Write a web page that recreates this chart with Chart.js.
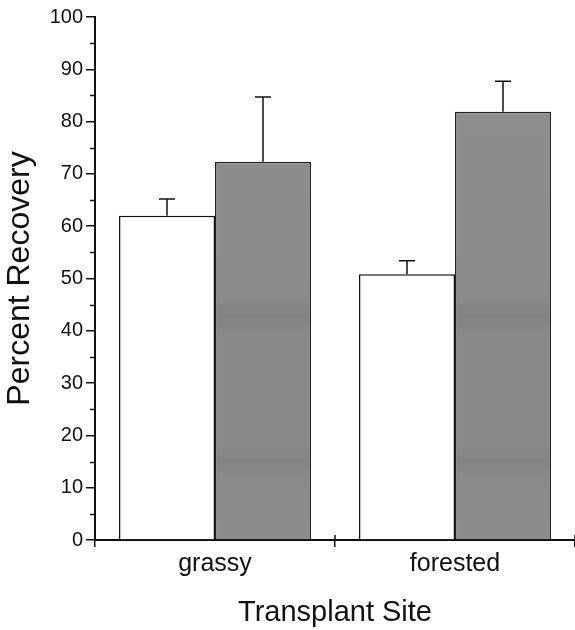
<!DOCTYPE html>
<html>
<head>
<meta charset="utf-8">
<script src="https://cdn.jsdelivr.net/npm/chart.js@4"></script>
<style>
  html, body { margin: 0; padding: 0; background: #fff; }
  #wrap { width: 575px; height: 630px; position: relative; }
</style>
</head>
<body>
<div id="wrap"><canvas id="chart"></canvas></div>
<script>
// data
const sites = ['grassy', 'forested'];
const seriesA = [62.0, 50.8];        // open bars
const seriesB = [72.3, 81.9];        // shaded bars
const errA = [3.2, 2.6];
const errB = [12.4, 5.8];
const yTicks = [0, 10, 20, 30, 40, 50, 60, 70, 80, 90, 100];
const yMinor = [5, 15, 25, 35, 45, 55, 65, 75, 85, 95];

const font = "'Liberation Sans', Arial, sans-serif";

// shaded fill with the faint darker bands of the print
function grayFill(context) {
    const chart = context.chart;
    if (!chart.chartArea) return '#8b8b8b';
    const y = chart.scales.y;
    const g = chart.ctx.createLinearGradient(0, y.getPixelForValue(100), 0, y.getPixelForValue(0));
    const stops = [[100, '#8e8e8e'], [47, '#8b8b8b'], [43, '#828282'], [39, '#8a8a8a'],
                   [18, '#8a8a8a'], [15, '#838383'], [12, '#8a8a8a'], [0, '#8c8c8c']];
    stops.forEach(s => g.addColorStop(1 - s[0] / 100, s[1]));
    return g;
}

const errorBars = {
    id: 'errorBars',
    afterDatasetsDraw(chart) {
        const ctx = chart.ctx;
        const y = chart.scales.y;
        const errs = [errA, errB];
        ctx.save();
        ctx.strokeStyle = '#111';
        ctx.lineWidth = 1.5;
        chart.data.datasets.forEach((ds, di) => {
            chart.getDatasetMeta(di).data.forEach((bar, i) => {
                const top = y.getPixelForValue(ds.data[i] + errs[di][i]);
                ctx.beginPath();
                ctx.moveTo(bar.x, bar.y);
                ctx.lineTo(bar.x, top);
                ctx.moveTo(bar.x - 8, top);
                ctx.lineTo(bar.x + 8, top);
                ctx.stroke();
            });
        });
        ctx.restore();
    }
};

const extraTicks = {
    id: 'extraTicks',
    afterDraw(chart) {
        const ctx = chart.ctx;
        const x = chart.scales.x;
        const y = chart.scales.y;
        const area = chart.chartArea;
        ctx.save();
        ctx.strokeStyle = '#111';
        ctx.lineWidth = 1.5;
        ctx.beginPath();
        // minor ticks on y
        yMinor.forEach(v => {
            const py = Math.round(y.getPixelForValue(v)) + 0.5;
            ctx.moveTo(area.left - 5, py);
            ctx.lineTo(area.left, py);
        });
        // inward part of category boundary ticks
        const half = (x.getPixelForValue(1) - x.getPixelForValue(0)) / 2;
        for (let i = 0; i < sites.length; i++) {
            const px = x.getPixelForValue(i) + half;
            ctx.moveTo(px, area.bottom);
            ctx.lineTo(px, area.bottom - 5);
        }
        ctx.stroke();
        ctx.restore();
    }
};

new Chart(document.getElementById('chart'), {
    type: 'bar',
    data: {
        labels: sites,
        datasets: [{
            label: 'open',
            data: seriesA,
            backgroundColor: '#ffffff',
            borderColor: '#111',
            borderWidth: 1.5
        }, {
            label: 'shaded',
            data: seriesB,
            backgroundColor: grayFill,
            borderColor: '#222',
            borderWidth: 1.5
        }]
    },
    options: {
        responsive: true,
        maintainAspectRatio: false,
        animation: false,
        layout: { padding: { top: 17, right: 0, left: 0, bottom: 0 } },
        plugins: {
            legend: { display: false },
            tooltip: { enabled: false }
        },
        datasets: {
            bar: { categoryPercentage: 0.8, barPercentage: 1.0 }
        },
        scales: {
            x: {
                offset: true,
                grid: {
                    display: true,
                    offset: true,
                    drawOnChartArea: false,
                    drawTicks: true,
                    tickLength: 7,
                    color: '#111',
                    lineWidth: 1.5
                },
                border: { display: true, color: '#111', width: 2 },
                ticks: {
                    color: '#111',
                    padding: 2,
                    font: { family: font, size: 25 }
                },
                title: {
                    display: true,
                    text: 'Transplant Site',
                    color: '#111',
                    padding: { top: 8, bottom: 0 },
                    font: { family: font, size: 29 }
                },
                afterFit(scale) { scale.height = 90; }
            },
            y: {
                min: 0,
                max: 100,
                afterBuildTicks(scale) { scale.ticks = yTicks.map(v => ({ value: v })); },
                grid: {
                    display: true,
                    drawOnChartArea: false,
                    drawTicks: true,
                    tickLength: 9,
                    color: '#111',
                    lineWidth: 1.5
                },
                border: { display: true, color: '#111', width: 2 },
                ticks: {
                    color: '#111',
                    padding: 3,
                    font: { family: font, size: 20 }
                },
                title: {
                    display: true,
                    text: 'Percent Recovery',
                    color: '#111',
                    padding: { top: 1, bottom: 0 },
                    font: { family: font, size: 32 }
                },
                afterFit(scale) { scale.width = 95; }
            }
        }
    },
    plugins: [errorBars, extraTicks]
});
</script>
</body>
</html>
